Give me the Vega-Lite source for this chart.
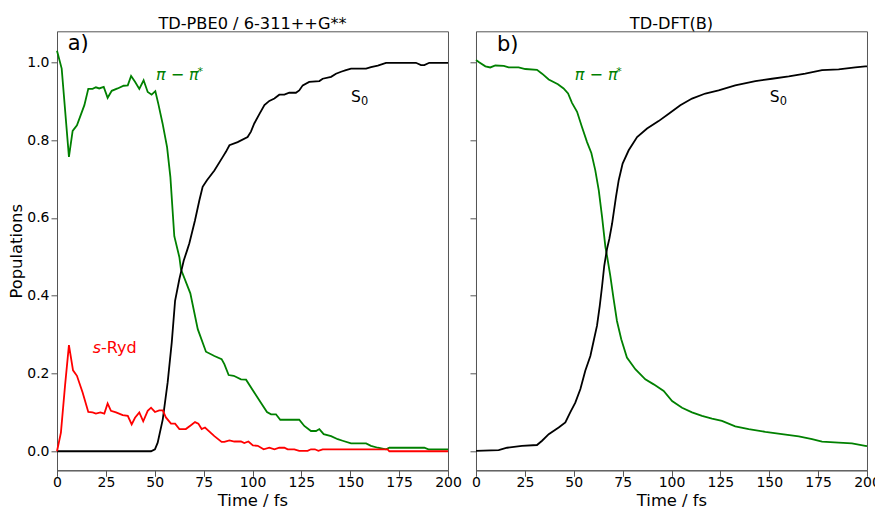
{
  "$schema": "https://vega.github.io/schema/vega-lite/v6.json",
  "padding": {"left": 8, "top": 15.3, "right": 0, "bottom": 0},
  "spacing": 7,
  "config": {
    "font": "DejaVu Sans",
    "view": {"stroke": "#555", "strokeWidth": 1},
    "axis": {"grid": false, "domainColor": "#555", "tickColor": "#555", "tickSize": 6, "labelFontSize": 14, "labelColor": "#000", "titleFontSize": 16.4, "titleFontWeight": "normal", "titleColor": "#000", "labelPadding": 2, "labelFlush": false},
    "title": {"fontSize": 16.2, "fontWeight": "normal", "color": "#000"}
  },
  "datasets": {
    "pbe0": [
      {"series": "pi", "t": 0, "v": 1.03}, {"series": "pi", "t": 2.4, "v": 0.984}, {"series": "pi", "t": 6.1, "v": 0.757}, {"series": "pi", "t": 8.0, "v": 0.824}, {"series": "pi", "t": 10.2, "v": 0.838}, {"series": "pi", "t": 14.0, "v": 0.89}, {"series": "pi", "t": 16.0, "v": 0.932}, {"series": "pi", "t": 18.2, "v": 0.932}, {"series": "pi", "t": 19.9, "v": 0.936}, {"series": "pi", "t": 21.6, "v": 0.933}, {"series": "pi", "t": 23.9, "v": 0.937}, {"series": "pi", "t": 25.9, "v": 0.909}, {"series": "pi", "t": 28.0, "v": 0.927}, {"series": "pi", "t": 31.0, "v": 0.933}, {"series": "pi", "t": 34.1, "v": 0.94}, {"series": "pi", "t": 36.2, "v": 0.941}, {"series": "pi", "t": 37.9, "v": 0.965}, {"series": "pi", "t": 39.9, "v": 0.95}, {"series": "pi", "t": 42.1, "v": 0.932}, {"series": "pi", "t": 44.3, "v": 0.954}, {"series": "pi", "t": 46.4, "v": 0.924}, {"series": "pi", "t": 48.4, "v": 0.917}, {"series": "pi", "t": 50.3, "v": 0.926}, {"series": "pi", "t": 51.8, "v": 0.894}, {"series": "pi", "t": 54.0, "v": 0.843}, {"series": "pi", "t": 56.3, "v": 0.782}, {"series": "pi", "t": 58.0, "v": 0.705}, {"series": "pi", "t": 60.0, "v": 0.553}, {"series": "pi", "t": 62.6, "v": 0.499}, {"series": "pi", "t": 63.4, "v": 0.468}, {"series": "pi", "t": 68.2, "v": 0.406}, {"series": "pi", "t": 72.0, "v": 0.314}, {"series": "pi", "t": 76.2, "v": 0.256}, {"series": "pi", "t": 80.5, "v": 0.245}, {"series": "pi", "t": 84.2, "v": 0.237}, {"series": "pi", "t": 85.6, "v": 0.224}, {"series": "pi", "t": 87.8, "v": 0.196}, {"series": "pi", "t": 90.4, "v": 0.194}, {"series": "pi", "t": 94.1, "v": 0.185}, {"series": "pi", "t": 96.7, "v": 0.184}, {"series": "pi", "t": 100.9, "v": 0.151}, {"series": "pi", "t": 104.3, "v": 0.125}, {"series": "pi", "t": 107.4, "v": 0.101}, {"series": "pi", "t": 109.5, "v": 0.095}, {"series": "pi", "t": 112.0, "v": 0.095}, {"series": "pi", "t": 114.2, "v": 0.081}, {"series": "pi", "t": 123.9, "v": 0.081}, {"series": "pi", "t": 126.5, "v": 0.065}, {"series": "pi", "t": 129.9, "v": 0.052}, {"series": "pi", "t": 132.5, "v": 0.052}, {"series": "pi", "t": 134.2, "v": 0.057}, {"series": "pi", "t": 136.4, "v": 0.044}, {"series": "pi", "t": 140.2, "v": 0.039}, {"series": "pi", "t": 143.6, "v": 0.031}, {"series": "pi", "t": 146.1, "v": 0.027}, {"series": "pi", "t": 150.4, "v": 0.02}, {"series": "pi", "t": 158.1, "v": 0.02}, {"series": "pi", "t": 160.6, "v": 0.014}, {"series": "pi", "t": 164.1, "v": 0.009}, {"series": "pi", "t": 168.3, "v": 0.005}, {"series": "pi", "t": 170.0, "v": 0.009}, {"series": "pi", "t": 187.9, "v": 0.009}, {"series": "pi", "t": 190.0, "v": 0.005}, {"series": "pi", "t": 200, "v": 0.005},
      {"series": "S0", "t": 0, "v": 0}, {"series": "S0", "t": 48.1, "v": 0}, {"series": "S0", "t": 50.1, "v": 0.005}, {"series": "S0", "t": 51.5, "v": 0.022}, {"series": "S0", "t": 54.1, "v": 0.082}, {"series": "S0", "t": 56.6, "v": 0.177}, {"series": "S0", "t": 58.7, "v": 0.28}, {"series": "S0", "t": 60.4, "v": 0.387}, {"series": "S0", "t": 62.6, "v": 0.443}, {"series": "S0", "t": 64.8, "v": 0.49}, {"series": "S0", "t": 66.5, "v": 0.516}, {"series": "S0", "t": 67.7, "v": 0.535}, {"series": "S0", "t": 70.6, "v": 0.594}, {"series": "S0", "t": 72.8, "v": 0.645}, {"series": "S0", "t": 74.5, "v": 0.68}, {"series": "S0", "t": 76.7, "v": 0.697}, {"series": "S0", "t": 80.5, "v": 0.722}, {"series": "S0", "t": 84.8, "v": 0.757}, {"series": "S0", "t": 86.4, "v": 0.77}, {"series": "S0", "t": 88.2, "v": 0.787}, {"series": "S0", "t": 92.4, "v": 0.795}, {"series": "S0", "t": 97.5, "v": 0.808}, {"series": "S0", "t": 99.2, "v": 0.822}, {"series": "S0", "t": 100.9, "v": 0.843}, {"series": "S0", "t": 103.5, "v": 0.867}, {"series": "S0", "t": 106.1, "v": 0.89}, {"series": "S0", "t": 108.6, "v": 0.901}, {"series": "S0", "t": 111.2, "v": 0.907}, {"series": "S0", "t": 113.7, "v": 0.917}, {"series": "S0", "t": 116.3, "v": 0.917}, {"series": "S0", "t": 118.8, "v": 0.922}, {"series": "S0", "t": 122.2, "v": 0.922}, {"series": "S0", "t": 123.9, "v": 0.928}, {"series": "S0", "t": 125.7, "v": 0.941}, {"series": "S0", "t": 129.0, "v": 0.95}, {"series": "S0", "t": 134.2, "v": 0.952}, {"series": "S0", "t": 135.9, "v": 0.958}, {"series": "S0", "t": 140.2, "v": 0.963}, {"series": "S0", "t": 142.7, "v": 0.971}, {"series": "S0", "t": 145.3, "v": 0.976}, {"series": "S0", "t": 147.8, "v": 0.98}, {"series": "S0", "t": 150.4, "v": 0.984}, {"series": "S0", "t": 158.1, "v": 0.984}, {"series": "S0", "t": 160.6, "v": 0.988}, {"series": "S0", "t": 164.1, "v": 0.992}, {"series": "S0", "t": 168.3, "v": 0.999}, {"series": "S0", "t": 183.6, "v": 0.999}, {"series": "S0", "t": 186.2, "v": 0.993}, {"series": "S0", "t": 187.9, "v": 0.993}, {"series": "S0", "t": 190.4, "v": 0.999}, {"series": "S0", "t": 200, "v": 0.999},
      {"series": "sRyd", "t": 0, "v": 0}, {"series": "sRyd", "t": 2.0, "v": 0.048}, {"series": "sRyd", "t": 4.1, "v": 0.168}, {"series": "sRyd", "t": 6.1, "v": 0.273}, {"series": "sRyd", "t": 8.2, "v": 0.208}, {"series": "sRyd", "t": 10.2, "v": 0.194}, {"series": "sRyd", "t": 13.1, "v": 0.151}, {"series": "sRyd", "t": 16.0, "v": 0.101}, {"series": "sRyd", "t": 18.2, "v": 0.1}, {"series": "sRyd", "t": 19.9, "v": 0.097}, {"series": "sRyd", "t": 22.2, "v": 0.1}, {"series": "sRyd", "t": 24.2, "v": 0.097}, {"series": "sRyd", "t": 25.9, "v": 0.123}, {"series": "sRyd", "t": 27.6, "v": 0.104}, {"series": "sRyd", "t": 30.2, "v": 0.1}, {"series": "sRyd", "t": 33.6, "v": 0.093}, {"series": "sRyd", "t": 36.2, "v": 0.091}, {"series": "sRyd", "t": 38.2, "v": 0.069}, {"series": "sRyd", "t": 39.9, "v": 0.086}, {"series": "sRyd", "t": 42.1, "v": 0.1}, {"series": "sRyd", "t": 44.1, "v": 0.077}, {"series": "sRyd", "t": 46.4, "v": 0.104}, {"series": "sRyd", "t": 48.1, "v": 0.112}, {"series": "sRyd", "t": 50.1, "v": 0.101}, {"series": "sRyd", "t": 52.3, "v": 0.105}, {"series": "sRyd", "t": 54.1, "v": 0.105}, {"series": "sRyd", "t": 55.7, "v": 0.087}, {"series": "sRyd", "t": 58.3, "v": 0.071}, {"series": "sRyd", "t": 60.4, "v": 0.071}, {"series": "sRyd", "t": 62.6, "v": 0.057}, {"series": "sRyd", "t": 65.9, "v": 0.057}, {"series": "sRyd", "t": 68.5, "v": 0.067}, {"series": "sRyd", "t": 70.6, "v": 0.075}, {"series": "sRyd", "t": 72.3, "v": 0.071}, {"series": "sRyd", "t": 74.0, "v": 0.057}, {"series": "sRyd", "t": 75.7, "v": 0.061}, {"series": "sRyd", "t": 80.5, "v": 0.039}, {"series": "sRyd", "t": 84.2, "v": 0.024}, {"series": "sRyd", "t": 85.6, "v": 0.024}, {"series": "sRyd", "t": 88.2, "v": 0.028}, {"series": "sRyd", "t": 90.7, "v": 0.025}, {"series": "sRyd", "t": 94.1, "v": 0.025}, {"series": "sRyd", "t": 95.8, "v": 0.021}, {"series": "sRyd", "t": 97.9, "v": 0.025}, {"series": "sRyd", "t": 100.2, "v": 0.015}, {"series": "sRyd", "t": 102.7, "v": 0.014}, {"series": "sRyd", "t": 105.7, "v": 0.005}, {"series": "sRyd", "t": 108.6, "v": 0.009}, {"series": "sRyd", "t": 111.2, "v": 0.005}, {"series": "sRyd", "t": 113.7, "v": 0.009}, {"series": "sRyd", "t": 116.3, "v": 0.009}, {"series": "sRyd", "t": 118.0, "v": 0.005}, {"series": "sRyd", "t": 121.4, "v": 0.005}, {"series": "sRyd", "t": 123.9, "v": 0.001}, {"series": "sRyd", "t": 128.2, "v": 0.001}, {"series": "sRyd", "t": 129.9, "v": 0.005}, {"series": "sRyd", "t": 131.9, "v": 0.005}, {"series": "sRyd", "t": 133.7, "v": 0.001}, {"series": "sRyd", "t": 135.9, "v": 0.005}, {"series": "sRyd", "t": 169.1, "v": 0.005}, {"series": "sRyd", "t": 170.0, "v": 0}, {"series": "sRyd", "t": 200, "v": 0}
    ],
    "dftb": [
      {"series": "pi", "t": 0, "v": 1.006}, {"series": "pi", "t": 1.4, "v": 1.001}, {"series": "pi", "t": 4.8, "v": 0.99}, {"series": "pi", "t": 7.3, "v": 0.987}, {"series": "pi", "t": 9.9, "v": 0.992}, {"series": "pi", "t": 14.2, "v": 0.991}, {"series": "pi", "t": 16.7, "v": 0.987}, {"series": "pi", "t": 21.8, "v": 0.987}, {"series": "pi", "t": 25.2, "v": 0.983}, {"series": "pi", "t": 31.2, "v": 0.981}, {"series": "pi", "t": 33.8, "v": 0.971}, {"series": "pi", "t": 37.2, "v": 0.956}, {"series": "pi", "t": 41.9, "v": 0.944}, {"series": "pi", "t": 44.8, "v": 0.933}, {"series": "pi", "t": 47.1, "v": 0.92}, {"series": "pi", "t": 49.1, "v": 0.896}, {"series": "pi", "t": 51.7, "v": 0.873}, {"series": "pi", "t": 54.2, "v": 0.834}, {"series": "pi", "t": 56.8, "v": 0.795}, {"series": "pi", "t": 59.0, "v": 0.767}, {"series": "pi", "t": 61.0, "v": 0.723}, {"series": "pi", "t": 62.8, "v": 0.671}, {"series": "pi", "t": 64.5, "v": 0.602}, {"series": "pi", "t": 66.2, "v": 0.525}, {"series": "pi", "t": 67.0, "v": 0.503}, {"series": "pi", "t": 68.7, "v": 0.451}, {"series": "pi", "t": 70.4, "v": 0.391}, {"series": "pi", "t": 72.1, "v": 0.335}, {"series": "pi", "t": 74.3, "v": 0.288}, {"series": "pi", "t": 77.2, "v": 0.241}, {"series": "pi", "t": 81.5, "v": 0.211}, {"series": "pi", "t": 86.6, "v": 0.185}, {"series": "pi", "t": 90.9, "v": 0.172}, {"series": "pi", "t": 96.0, "v": 0.155}, {"series": "pi", "t": 100.3, "v": 0.129}, {"series": "pi", "t": 105.4, "v": 0.112}, {"series": "pi", "t": 110.5, "v": 0.1}, {"series": "pi", "t": 115.6, "v": 0.091}, {"series": "pi", "t": 120.7, "v": 0.084}, {"series": "pi", "t": 125.8, "v": 0.078}, {"series": "pi", "t": 132.6, "v": 0.064}, {"series": "pi", "t": 139.5, "v": 0.057}, {"series": "pi", "t": 148.0, "v": 0.05}, {"series": "pi", "t": 156.5, "v": 0.044}, {"series": "pi", "t": 165.1, "v": 0.038}, {"series": "pi", "t": 171.9, "v": 0.031}, {"series": "pi", "t": 177.0, "v": 0.025}, {"series": "pi", "t": 185.5, "v": 0.022}, {"series": "pi", "t": 192.3, "v": 0.02}, {"series": "pi", "t": 199.1, "v": 0.014}, {"series": "pi", "t": 200, "v": 0.013},
      {"series": "S0", "t": 0, "v": 0.001}, {"series": "S0", "t": 11.6, "v": 0.003}, {"series": "S0", "t": 15.9, "v": 0.009}, {"series": "S0", "t": 23.5, "v": 0.014}, {"series": "S0", "t": 31.2, "v": 0.016}, {"series": "S0", "t": 33.8, "v": 0.027}, {"series": "S0", "t": 37.2, "v": 0.044}, {"series": "S0", "t": 42.3, "v": 0.061}, {"series": "S0", "t": 45.7, "v": 0.074}, {"series": "S0", "t": 48.2, "v": 0.1}, {"series": "S0", "t": 50.8, "v": 0.125}, {"series": "S0", "t": 53.4, "v": 0.16}, {"series": "S0", "t": 55.9, "v": 0.207}, {"series": "S0", "t": 58.5, "v": 0.245}, {"series": "S0", "t": 60.2, "v": 0.284}, {"series": "S0", "t": 61.9, "v": 0.323}, {"series": "S0", "t": 63.3, "v": 0.374}, {"series": "S0", "t": 64.5, "v": 0.425}, {"series": "S0", "t": 65.6, "v": 0.477}, {"series": "S0", "t": 67.0, "v": 0.52}, {"series": "S0", "t": 68.2, "v": 0.546}, {"series": "S0", "t": 69.6, "v": 0.585}, {"series": "S0", "t": 71.6, "v": 0.654}, {"series": "S0", "t": 73.0, "v": 0.697}, {"series": "S0", "t": 75.0, "v": 0.74}, {"series": "S0", "t": 78.1, "v": 0.774}, {"series": "S0", "t": 82.4, "v": 0.808}, {"series": "S0", "t": 87.5, "v": 0.83}, {"series": "S0", "t": 93.4, "v": 0.849}, {"series": "S0", "t": 98.6, "v": 0.868}, {"series": "S0", "t": 104.5, "v": 0.89}, {"series": "S0", "t": 110.5, "v": 0.907}, {"series": "S0", "t": 117.3, "v": 0.92}, {"series": "S0", "t": 124.1, "v": 0.928}, {"series": "S0", "t": 132.6, "v": 0.941}, {"series": "S0", "t": 142.9, "v": 0.952}, {"series": "S0", "t": 151.4, "v": 0.958}, {"series": "S0", "t": 160.0, "v": 0.964}, {"series": "S0", "t": 168.4, "v": 0.971}, {"series": "S0", "t": 177.0, "v": 0.98}, {"series": "S0", "t": 185.5, "v": 0.982}, {"series": "S0", "t": 194.0, "v": 0.987}, {"series": "S0", "t": 199.1, "v": 0.99}, {"series": "S0", "t": 200, "v": 0.99}
    ]
  },
  "hconcat": [
    {
      "title": {"text": "TD-PBE0 / 6-311++G**", "offset": -1},
      "width": 391,
      "height": 439,
      "layer": [
        {
          "data": {"name": "pbe0"},
          "mark": {"type": "line", "strokeWidth": 1.8},
          "encoding": {
            "x": {"field": "t", "type": "quantitative", "scale": {"domain": [0, 200], "nice": false}, "axis": {"values": [0, 25, 50, 75, 100, 125, 150, 175, 200], "title": "Time / fs", "labelPadding": -1, "titlePadding": 3}},
            "y": {"field": "v", "type": "quantitative", "scale": {"domain": [-0.049, 1.08], "nice": false, "zero": false}, "axis": {"values": [0, 0.2, 0.4, 0.6, 0.8, 1.0], "format": ".1f", "title": "Populations", "titlePadding": 2}},
            "color": {"field": "series", "type": "nominal", "scale": {"domain": ["pi", "S0", "sRyd"], "range": ["#008000", "#000000", "#ff0000"]}, "legend": null}
          }
        },
        {
          "data": {"values": [{"t": 5.5, "v": 1.031, "label": "a)"}]},
          "mark": {"type": "text", "fontSize": 21, "align": "left", "baseline": "alphabetic", "color": "#000"},
          "encoding": {"x": {"field": "t", "type": "quantitative"}, "y": {"field": "v", "type": "quantitative"}, "text": {"field": "label"}}
        },
        {
          "data": {"values": [{"t": 150.4, "v": 0.898, "label": "S"}]},
          "mark": {"type": "text", "fontSize": 15.5, "align": "left", "baseline": "alphabetic", "color": "#000"},
          "encoding": {"x": {"field": "t", "type": "quantitative"}, "y": {"field": "v", "type": "quantitative"}, "text": {"field": "label"}}
        },
        {
          "data": {"values": [{"t": 150.4, "v": 0.898, "label": "0"}]},
          "mark": {"type": "text", "fontSize": 11.4, "align": "left", "baseline": "alphabetic", "color": "#000", "dx": 10, "dy": 2.5},
          "encoding": {"x": {"field": "t", "type": "quantitative"}, "y": {"field": "v", "type": "quantitative"}, "text": {"field": "label"}}
        },
        {
          "data": {"values": [{"t": 50.6, "v": 0.956, "label": "π − π"}]},
          "mark": {"type": "text", "fontSize": 16, "fontStyle": "italic", "align": "left", "baseline": "alphabetic", "color": "#008000"},
          "encoding": {"x": {"field": "t", "type": "quantitative"}, "y": {"field": "v", "type": "quantitative"}, "text": {"field": "label"}}
        },
        {
          "data": {"values": [{"t": 50.6, "v": 0.956, "label": "*"}]},
          "mark": {"type": "text", "fontSize": 11, "align": "left", "baseline": "alphabetic", "color": "#008000", "dx": 41.5, "dy": -5},
          "encoding": {"x": {"field": "t", "type": "quantitative"}, "y": {"field": "v", "type": "quantitative"}, "text": {"field": "label"}}
        },
        {
          "data": {"values": [{"t": 18.3, "v": 0.252, "label": "s"}]},
          "mark": {"type": "text", "fontSize": 16, "fontStyle": "italic", "align": "left", "baseline": "alphabetic", "color": "#ff0000"},
          "encoding": {"x": {"field": "t", "type": "quantitative"}, "y": {"field": "v", "type": "quantitative"}, "text": {"field": "label"}}
        },
        {
          "data": {"values": [{"t": 22.5, "v": 0.252, "label": "-Ryd"}]},
          "mark": {"type": "text", "fontSize": 16, "align": "left", "baseline": "alphabetic", "color": "#ff0000"},
          "encoding": {"x": {"field": "t", "type": "quantitative"}, "y": {"field": "v", "type": "quantitative"}, "text": {"field": "label"}}
        }
      ]
    },
    {
      "title": {"text": "TD-DFT(B)", "offset": -1},
      "width": 391,
      "height": 439,
      "layer": [
        {
          "data": {"name": "dftb"},
          "mark": {"type": "line", "strokeWidth": 1.8},
          "encoding": {
            "x": {"field": "t", "type": "quantitative", "scale": {"domain": [0, 200], "nice": false}, "axis": {"values": [0, 25, 50, 75, 100, 125, 150, 175, 200], "title": "Time / fs", "labelPadding": -1, "titlePadding": 3}},
            "y": {"field": "v", "type": "quantitative", "scale": {"domain": [-0.049, 1.08], "nice": false, "zero": false}, "axis": {"values": [0, 0.2, 0.4, 0.6, 0.8, 1.0], "labels": false, "title": null}},
            "color": {"field": "series", "type": "nominal", "scale": {"domain": ["pi", "S0", "sRyd"], "range": ["#008000", "#000000", "#ff0000"]}, "legend": null}
          }
        },
        {
          "data": {"values": [{"t": 10.7, "v": 1.03, "label": "b)"}]},
          "mark": {"type": "text", "fontSize": 21, "align": "left", "baseline": "alphabetic", "color": "#000"},
          "encoding": {"x": {"field": "t", "type": "quantitative"}, "y": {"field": "v", "type": "quantitative"}, "text": {"field": "label"}}
        },
        {
          "data": {"values": [{"t": 150.2, "v": 0.898, "label": "S"}]},
          "mark": {"type": "text", "fontSize": 15.5, "align": "left", "baseline": "alphabetic", "color": "#000"},
          "encoding": {"x": {"field": "t", "type": "quantitative"}, "y": {"field": "v", "type": "quantitative"}, "text": {"field": "label"}}
        },
        {
          "data": {"values": [{"t": 150.2, "v": 0.898, "label": "0"}]},
          "mark": {"type": "text", "fontSize": 11.4, "align": "left", "baseline": "alphabetic", "color": "#000", "dx": 10, "dy": 2.5},
          "encoding": {"x": {"field": "t", "type": "quantitative"}, "y": {"field": "v", "type": "quantitative"}, "text": {"field": "label"}}
        },
        {
          "data": {"values": [{"t": 50.5, "v": 0.954, "label": "π − π"}]},
          "mark": {"type": "text", "fontSize": 16, "fontStyle": "italic", "align": "left", "baseline": "alphabetic", "color": "#008000"},
          "encoding": {"x": {"field": "t", "type": "quantitative"}, "y": {"field": "v", "type": "quantitative"}, "text": {"field": "label"}}
        },
        {
          "data": {"values": [{"t": 50.5, "v": 0.954, "label": "*"}]},
          "mark": {"type": "text", "fontSize": 11, "align": "left", "baseline": "alphabetic", "color": "#008000", "dx": 41.5, "dy": -5},
          "encoding": {"x": {"field": "t", "type": "quantitative"}, "y": {"field": "v", "type": "quantitative"}, "text": {"field": "label"}}
        }
      ]
    }
  ]
}
